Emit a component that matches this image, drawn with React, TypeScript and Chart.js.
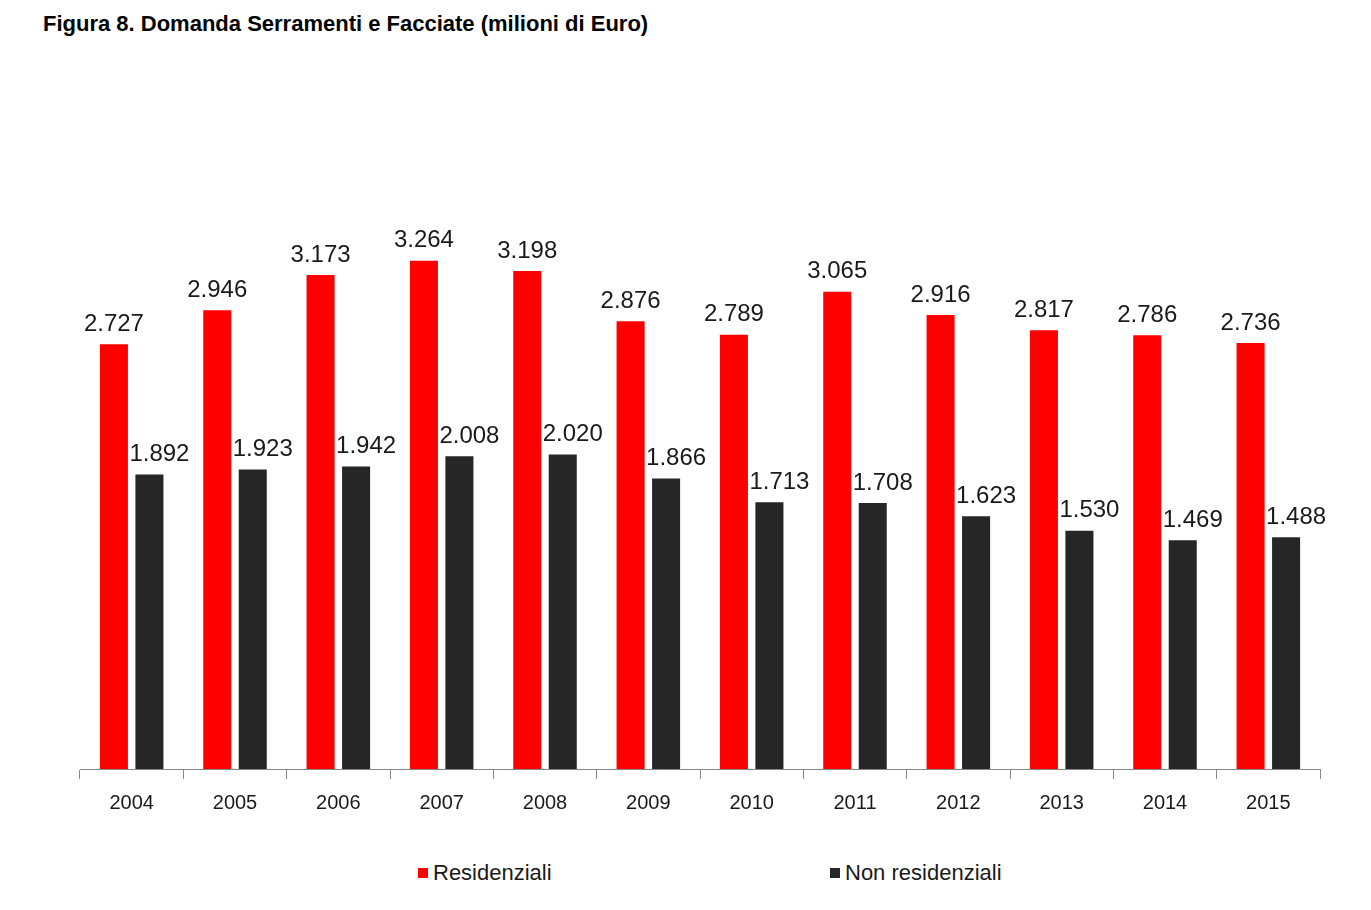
import React, { useEffect, useRef } from "react";
import { Chart, registerables } from "chart.js";
Chart.register(...registerables);

const categories = ["2004","2005","2006","2007","2008","2009","2010","2011","2012","2013","2014","2015"];
const residenziali = [2727,2946,3173,3264,3198,2876,2789,3065,2916,2817,2786,2736];
const nonResidenziali = [1892,1923,1942,2008,2020,1866,1713,1708,1623,1530,1469,1488];

const fmt = (v: number) => { const s = String(v); return s.length > 3 ? s.slice(0, s.length - 3) + "." + s.slice(-3) : s; };

const labelPlugin = {
  id: "labels",
  afterDatasetsDraw(chart: any) {
    const ctx = chart.ctx;
    ctx.save();
    ctx.font = "24px Arial, 'Liberation Sans'";
    ctx.fillStyle = "#1a1a1a";
    ctx.textAlign = "center";
    ctx.textBaseline = "bottom";
    chart.data.datasets.forEach((ds: any, i: number) => {
      chart.getDatasetMeta(i).data.forEach((el: any, j: number) => {
        ctx.fillText(fmt(ds.data[j]), el.x + (i === 1 ? 10 : 0), el.y - 8);
      });
    });
    ctx.restore();
  },
};

export default function App() {
  const ref = useRef<HTMLCanvasElement>(null);
  useEffect(() => {
    const chart = new Chart(ref.current!, {
      type: "bar",
      data: {
        labels: categories,
        datasets: [
          { label: "Residenziali", data: residenziali, backgroundColor: "#ff0000" },
          { label: "Non residenziali", data: nonResidenziali, backgroundColor: "#262626" },
        ],
      },
      options: {
        animation: false,
        responsive: false,
        datasets: { bar: { categoryPercentage: 0.687, barPercentage: 0.79 } },
        layout: { padding: { left: 80, right: 51, top: 224, bottom: 0 } },
        plugins: { legend: { display: false }, tooltip: { enabled: false } },
        scales: {
          y: { display: false, min: 0, max: 3500 },
          x: {
            grid: { offset: true, drawOnChartArea: false, drawTicks: true, tickLength: 10, color: "#888" },
            border: { display: true, color: "#888" },
            ticks: { padding: 12, color: "#1a1a1a", font: { size: 20, family: "Arial, 'Liberation Sans'" } },
          },
        },
      },
      plugins: [labelPlugin],
    });
    return () => chart.destroy();
  }, []);
  const sq = (c: string) => ({ display: "inline-block", width: 10, height: 10, background: c, marginRight: 5 });
  return (
    <div style={{ position: "absolute", left: 0, top: 0, width: 1371, height: 910, background: "#fff", fontFamily: "Arial, 'Liberation Sans', sans-serif" }}>
      <div style={{ position: "absolute", left: 43, top: 11, fontSize: 22, fontWeight: "bold", color: "#000" }}>
        Figura 8. Domanda Serramenti e Facciate (milioni di Euro)
      </div>
      <canvas ref={ref} width={1371} height={827} style={{ position: "absolute", left: 0, top: 0 }} />
      <div style={{ position: "absolute", left: 418, top: 860, fontSize: 22, color: "#1a1a1a", display: "flex", alignItems: "center" }}>
        <span style={sq("#ff0000")} />Residenziali
      </div>
      <div style={{ position: "absolute", left: 830, top: 860, fontSize: 22, color: "#1a1a1a", display: "flex", alignItems: "center" }}>
        <span style={sq("#262626")} />Non residenziali
      </div>
    </div>
  );
}
